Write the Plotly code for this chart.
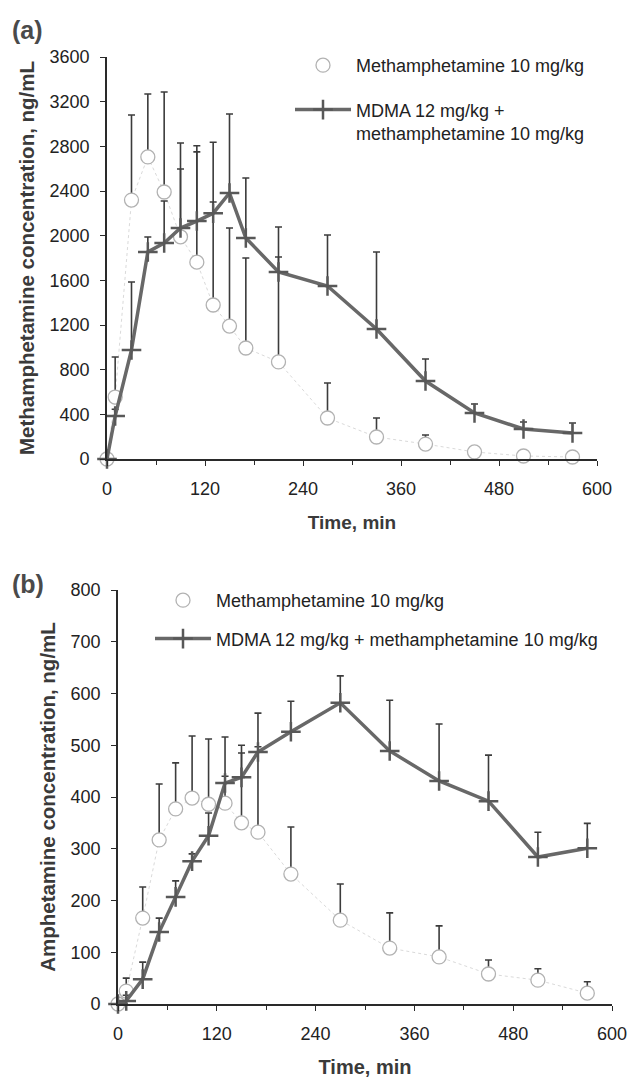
import plotly.graph_objects as go

W, H = 629, 1079

# ---------------- data ----------------
time_min = [0, 10, 30, 50, 70, 90, 110, 130, 150, 170, 210, 270, 330, 390, 450, 510, 570]

# Panel (a): methamphetamine concentration (ng/mL)
meth_a_mean = [0, 555, 2319, 2705, 2391, 1990, 1763, 1379, 1190, 994, 869, 367, 197, 134, 63, 27, 18]
meth_a_err = [0, 358, 762, 564, 895, 840, 1042, 1458, 878, 806, 1209, 313, 170, 81, 27, 13, 7]
combo_a_mean = [0, 385, 976, 1854, 1934, 2068, 2131, 2201, 2382, 1979, 1675, 1549, 1164, 698, 412, 269, 233]
combo_a_err = [0, 60, 609, 134, 376, 529, 619, 100, 707, 537, 134, 457, 690, 197, 80, 62, 89]

# Panel (b): amphetamine concentration (ng/mL)
meth_b_mean = [0, 25, 166, 317, 377, 398, 386, 388, 350, 332, 251, 162, 108, 91, 58, 46, 21]
meth_b_err = [0, 25, 60, 108, 89, 120, 126, 52, 150, 230, 91, 70, 68, 60, 27, 22, 22]
combo_b_mean = [0, 6, 48, 139, 207, 276, 325, 427, 438, 487, 526, 582, 489, 431, 392, 284, 301]
combo_b_err = [0, 11, 33, 27, 31, 14, 44, 89, 47, 10, 59, 52, 98, 110, 89, 48, 48]

x_ticks = [0, 120, 240, 360, 480, 600]
ya_ticks = list(range(0, 3601, 400))
yb_ticks = list(range(0, 801, 100))

label_meth = "Methamphetamine 10 mg/kg"
label_combo_a = "MDMA 12 mg/kg +<br>methamphetamine 10 mg/kg"
label_combo_b = "MDMA 12 mg/kg + methamphetamine 10 mg/kg"

# ---------------- styles ----------------
FONT = "Arial, Liberation Sans, sans-serif"
CIRCLE_COL = "#b2b2b2"
COMBO_COL = "#686868"
ERR_COL = "#3c3c3c"
AX_COL = "#2a2a2a"

fig = go.Figure()


def add_panel(xa, ya, meth_mean, meth_err, combo_mean, combo_err, combo_label, legend):
    # faint dotted connector between circles
    fig.add_trace(go.Scatter(
        x=time_min, y=meth_mean, mode="lines", xaxis=xa, yaxis=ya,
        line=dict(color="#dadada", width=1, dash="dot"),
        showlegend=False, hoverinfo="skip", cliponaxis=False))
    fig.add_trace(go.Scatter(
        x=time_min, y=meth_mean, mode="markers", xaxis=xa, yaxis=ya,
        name=label_meth, legend=legend, legendgroup=legend + "m",
        marker=dict(symbol="circle", size=14, color="white",
                    line=dict(width=1.3, color=CIRCLE_COL)),
        error_y=dict(type="data", array=meth_err, arrayminus=[0] * len(meth_err), symmetric=False,
                     color=ERR_COL, thickness=1.6, width=3.5),
        cliponaxis=False))
    fig.add_trace(go.Scatter(
        x=time_min, y=combo_mean, mode="lines+markers", xaxis=xa, yaxis=ya,
        name=combo_label, legend=legend, legendgroup=legend + "c",
        line=dict(color=COMBO_COL, width=3.5),
        marker=dict(symbol="cross-thin", size=14, color=COMBO_COL, line=dict(width=2.5, color="#585858")),
        error_y=dict(type="data", array=combo_err, arrayminus=[0] * len(combo_err), symmetric=False,
                     color=ERR_COL, thickness=1.6, width=3.5),
        cliponaxis=False))


add_panel("x", "y", meth_a_mean, meth_a_err, combo_a_mean, combo_a_err, label_combo_a, "legend")
add_panel("x2", "y2", meth_b_mean, meth_b_err, combo_b_mean, combo_b_err, label_combo_b, "legend2")


def xaxis_cfg(domain, anchor, title_size):
    return dict(
        domain=domain, anchor=anchor, range=[0, 600], tickvals=x_ticks,
        ticks="outside", ticklen=5, tickwidth=1.3, tickcolor=AX_COL,
        minor=dict(dtick=60, ticks="outside", ticklen=4, tickwidth=1.2, tickcolor=AX_COL),
        showline=True, linecolor=AX_COL, linewidth=1.6, showgrid=False, zeroline=False,
        tickfont=dict(size=18, color="#222222", family=FONT), ticklabelstandoff=8,
        title=dict(text="<b>Time, min</b>", font=dict(size=title_size, color="#3a3a3a", family=FONT),
                   standoff=17),
        automargin=False,
    )


def yaxis_cfg(domain, anchor, rng, ticks, title):
    return dict(
        domain=domain, anchor=anchor, range=rng, tickvals=ticks,
        ticks="outside", ticklen=5, tickwidth=1.3, tickcolor=AX_COL,
        showline=True, linecolor=AX_COL, linewidth=1.6, showgrid=False, zeroline=False,
        tickfont=dict(size=18, color="#222222", family=FONT), ticklabelstandoff=7,
        title=dict(text="<b>" + title + "</b>", font=dict(size=20.5, color="#3a3a3a", family=FONT),
                   standoff=9),
        automargin=False,
    )


fig.update_layout(
    width=W, height=H,
    margin=dict(l=0, r=0, t=0, b=0, pad=0, autoexpand=False),
    paper_bgcolor="white", plot_bgcolor="white",
    font=dict(family=FONT, color="#222222"),
    xaxis=xaxis_cfg([107 / W, 597 / W], "y", 19),
    yaxis=yaxis_cfg([1 - 459 / H, 1 - 57 / H], "x", [0, 3600], ya_ticks,
                    "Methamphetamine concentration, ng/mL"),
    xaxis2=xaxis_cfg([118 / W, 612 / W], "y2", 20),
    yaxis2=yaxis_cfg([1 - 1004 / H, 1 - 590 / H], "x2", [0, 800], yb_ticks,
                     "Amphetamine concentration, ng/mL"),
    legend=dict(x=290 / W, y=1 - 47 / H, xanchor="left", yanchor="top",
                itemwidth=56, valign="top", tracegroupgap=18, bgcolor="rgba(0,0,0,0)",
                font=dict(size=18, color="#222222", family=FONT)),
    legend2=dict(x=150 / W, y=1 - 582 / H, xanchor="left", yanchor="top",
                 itemwidth=56, valign="top", tracegroupgap=12, bgcolor="rgba(0,0,0,0)",
                 font=dict(size=18, color="#222222", family=FONT)),
    annotations=[
        dict(text="<b>(a)</b>", x=10 / W, y=1 - 30 / H, xref="paper", yref="paper",
             xanchor="left", yanchor="middle", showarrow=False,
             font=dict(size=25, color="#4a4a4a", family=FONT)),
        dict(text="<b>(b)</b>", x=10 / W, y=1 - 584 / H, xref="paper", yref="paper",
             xanchor="left", yanchor="middle", showarrow=False,
             font=dict(size=25, color="#4a4a4a", family=FONT)),
    ],
)

fig.write_html("out.html", config={"displayModeBar": False},
               post_script="document.body.style.margin='0';")
